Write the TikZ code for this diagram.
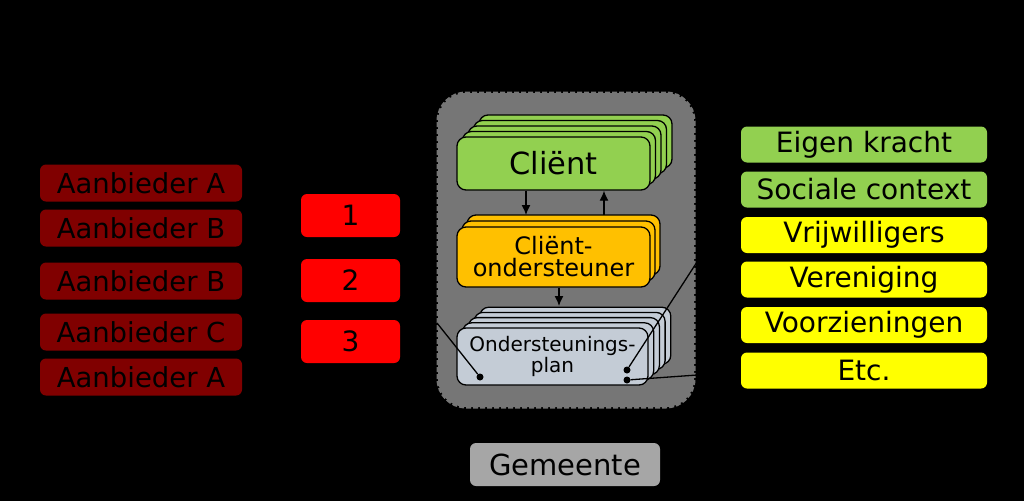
\documentclass[tikz,border=0pt]{standalone}
\usepackage{fontspec}
\setmainfont{DejaVu Sans}
\usetikzlibrary{arrows.meta}
\definecolor{dred}{RGB}{128,0,0}
\definecolor{bred}{RGB}{255,0,0}
\definecolor{lgreen}{RGB}{146,208,80}
\definecolor{yel}{RGB}{255,255,0}
\definecolor{amber}{RGB}{255,192,0}
\definecolor{plangray}{RGB}{196,204,214}
\definecolor{contgray}{RGB}{118,118,118}
\definecolor{gemgray}{RGB}{166,166,166}
\tikzset{
  box/.style={rectangle, rounded corners=6pt, inner sep=0pt, text=black, align=center},
  provbox/.style={box, fill=dred, minimum width=202pt, minimum height=37pt, font=\fontsize{27.5}{30}\selectfont},
  numbox/.style={box, fill=bred, minimum width=99pt, minimum height=43pt, font=\fontsize{28}{30}\selectfont},
  resbox/.style={box, fill=#1, minimum width=246pt, minimum height=36pt, font=\fontsize{28}{30}\selectfont},
  stackbox/.style={box, draw=black, line width=1.3pt, rounded corners=9pt},
  conn/.style={draw=black, line width=1.3pt},
  arr/.style={conn, -{Latex[length=10pt,width=9pt]}},
  dot/.style={circle, fill=black, inner sep=0pt, minimum size=7pt}
}
\begin{document}
\begin{tikzpicture}[x=1pt,y=-1pt]
\fill[black] (0,0) rectangle (1024,501);
\useasboundingbox (0,0) rectangle (1024,501);

% providers
\node[provbox] (p1) at (141,183) {Aanbieder A};
\node[provbox] (p2) at (141,228) {Aanbieder B};
\node[provbox] (p3) at (141,281) {Aanbieder B};
\node[provbox] (p4) at (141,332) {Aanbieder C};
\node[provbox] (p5) at (141,377) {Aanbieder A};

% numbers
\node[numbox] (n1) at (350.5,215.5) {1};
\node[numbox] (n2) at (350.5,280.5) {2};
\node[numbox] (n3) at (350.5,341.5) {3};

% container
\node[rectangle, rounded corners=28pt, fill=contgray, draw=contgray, line width=3pt,
      dash pattern=on 5pt off 2pt, minimum width=256pt, minimum height=314pt] (cont) at (566,250) {};

% client stack
\foreach \k in {4,3,2,1}
  \draw[stackbox, fill=lgreen] ({457+5.5*\k},{137-5.5*\k}) rectangle ({650+5.5*\k},{190-5.5*\k});
\node[stackbox, fill=lgreen, minimum width=193pt, minimum height=53pt,
      font=\fontsize{30.5}{32}\selectfont] (client) at (553.5,163.5) {Cliënt};

% client supporter stack
\foreach \k in {2,1}
  \draw[stackbox, fill=amber] ({457+5*\k},{227-6*\k}) rectangle ({650+5*\k},{287-6*\k});
\node[stackbox, fill=amber, minimum width=193pt, minimum height=60pt,
      font=\fontsize{24}{22}\selectfont] (cond) at (553.5,257) {Cliënt-\\ondersteuner};

% plan stack
\foreach \k in {4,3,2,1}
  \draw[stackbox, fill=plangray] ({457+5.7*\k},{328-5.2*\k}) rectangle ({648+5.7*\k},{385-5.2*\k});
\node[stackbox, fill=plangray, minimum width=191pt, minimum height=57pt,
      font=\fontsize{20}{21}\selectfont] (plan) at (552.5,356.5) {Ondersteunings-\\plan};

% arrows
\coordinate (a1) at (526,215);
\coordinate (a2) at (604,215);
\coordinate (a3) at (559,306);
\draw[arr] (client.south -| a1) -- (a1);
\draw[arr] (a2) -- (client.south -| a2);
\draw[arr] (cond.south -| a3) -- (a3);

% dots and lines
\node[dot] (dl) at (480,377) {};
\node[dot] (dr1) at (627,370) {};
\node[dot] (dr2) at (627,380) {};
\coordinate (el) at (437,323);
\coordinate (er1) at (697,262);
\coordinate (er2) at (697,375);
\draw[conn] (dl) -- (el);
\draw[conn] (dr1) -- (er1);
\draw[conn] (dr2) -- (er2);

% resources
\node[resbox=lgreen] (r1) at (864,144.5) {Eigen kracht};
\node[resbox=lgreen] (r2) at (864,189.5) {Sociale context};
\node[resbox=yel] (r3) at (864,235) {Vrijwilligers};
\node[resbox=yel] (r4) at (864,279.5) {Vereniging};
\node[resbox=yel] (r5) at (864,325) {Voorzieningen};
\node[resbox=yel] (r6) at (864,370.5) {Etc.};

% municipality
\node[box, fill=gemgray, minimum width=190pt, minimum height=43pt,
      font=\fontsize{29}{32}\selectfont] (gem) at (565,464.5) {Gemeente};
\end{tikzpicture}
\end{document}
